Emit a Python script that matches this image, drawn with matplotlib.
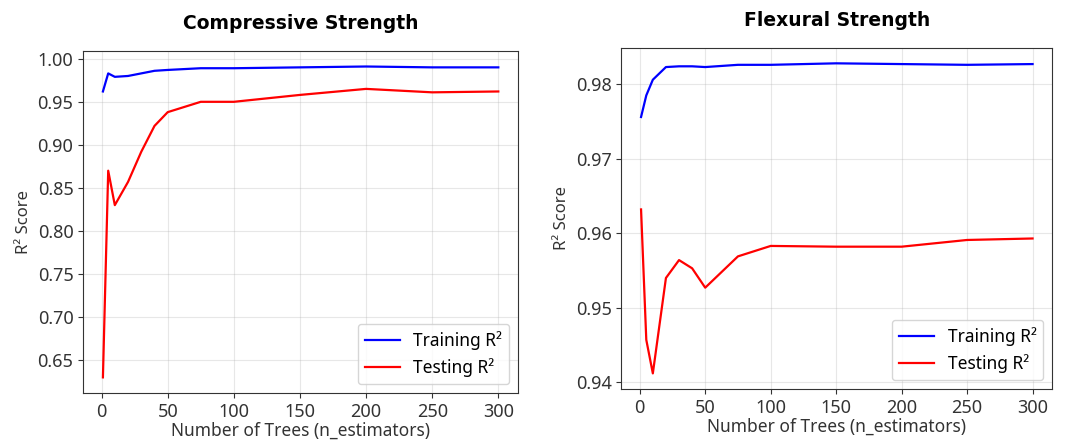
import matplotlib
matplotlib.use("Agg")
import matplotlib.pyplot as plt

plt.rcParams['font.family'] = ['Noto Sans', 'DejaVu Sans']

# number of trees evaluated
n_trees = [1, 5, 10, 20, 30, 40, 50, 75, 100, 150, 200, 250, 300]

# compressive strength R² scores
comp_train = [0.962, 0.983, 0.979, 0.980, 0.983, 0.986, 0.987, 0.989, 0.989, 0.990, 0.991, 0.990, 0.990]
comp_test = [0.630, 0.870, 0.830, 0.857, 0.892, 0.922, 0.938, 0.950, 0.950, 0.958, 0.965, 0.961, 0.962]

# flexural strength R² scores
flex_train = [0.9756, 0.9785, 0.9806, 0.9823, 0.9824, 0.9824, 0.9823, 0.9826, 0.9826, 0.9828, 0.9827, 0.9826, 0.9827]
flex_test = [0.9632, 0.9457, 0.9412, 0.9540, 0.9564, 0.9553, 0.9527, 0.9569, 0.9583, 0.9582, 0.9582, 0.9591, 0.9593]


def plot_scores(ax, train, test, title):
    ax.plot(n_trees, train, color='blue', lw=1.6, label='Training R²')
    ax.plot(n_trees, test, color='red', lw=1.6, label='Testing R²')
    ax.set_title(title, fontsize=13.5, fontweight='bold', family=['DejaVu Sans'], pad=16)
    ax.set_xlabel("Number of Trees (n_estimators)", fontsize=12.5, color='#333333', labelpad=1)
    ax.set_ylabel("R² Score", fontsize=12, color='#333333')
    ax.tick_params(labelsize=13, colors='#333333')
    ax.set_xticks([0, 50, 100, 150, 200, 250, 300])
    ax.grid(True, alpha=0.3)
    ax.legend(loc='lower right', fontsize=12.5)
    for sp in ax.spines.values():
        sp.set_color('#333333')


fig = plt.figure(figsize=(10.66, 4.47), dpi=100)
ax1 = fig.add_axes([0.078, 0.121, 0.408, 0.765])
ax2 = fig.add_axes([0.583, 0.130, 0.404, 0.763])

plot_scores(ax1, comp_train, comp_test, "Compressive Strength")
plot_scores(ax2, flex_train, flex_test, "Flexural Strength")
ax2.set_yticks([0.94, 0.95, 0.96, 0.97, 0.98])

fig.savefig("out.png", dpi=100)
